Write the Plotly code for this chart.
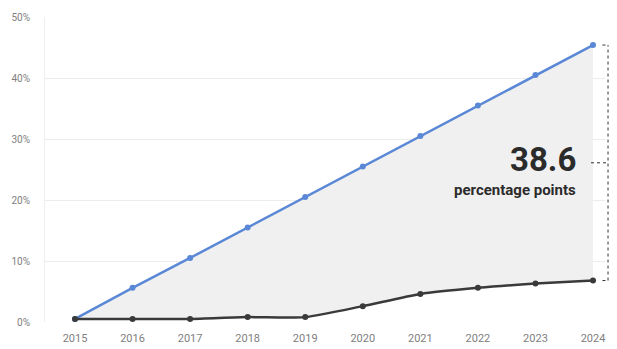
import plotly.graph_objects as go

years = [2015, 2016, 2017, 2018, 2019, 2020, 2021, 2022, 2023, 2024]
blue_series = [0.5, 5.6, 10.5, 15.5, 20.5, 25.5, 30.5, 35.5, 40.5, 45.4]
black_series = [0.5, 0.5, 0.5, 0.8, 0.8, 2.6, 4.6, 5.6, 6.3, 6.8]
y_ticks = [0, 10, 20, 30, 40, 50]
y_tick_labels = ["0%", "10%", "20%", "30%", "40%", "50%"]

gap = round(blue_series[-1] - black_series[-1], 1)

FONT = "Roboto, sans-serif"

fig = go.Figure()
fig.add_trace(go.Scatter(
    x=years, y=blue_series, mode="lines+markers",
    line=dict(color="#5a88d6", width=2.5),
    marker=dict(size=6, color="#5a88d6"),
    cliponaxis=False, showlegend=False, hoverinfo="skip",
))
fig.add_trace(go.Scatter(
    x=years, y=black_series, mode="lines+markers",
    line=dict(color="#3a3a3a", width=2.5, shape="spline", smoothing=0.6),
    marker=dict(size=6, color="#3a3a3a"),
    fill="tonexty", fillcolor="#f0f0f0",
    cliponaxis=False, showlegend=False, hoverinfo="skip",
))

# bracket marking the gap in the final year
x1 = 1.0054
y_top, y_bot = blue_series[-1] / 50, black_series[-1] / 50
dot = dict(color="#333333", width=1, dash="dot")
fig.add_shape(type="line", xref="paper", yref="paper", x0=x1, x1=x1, y0=y_bot, y1=y_top, line=dot)
fig.add_shape(type="line", xref="paper", yref="paper", x0=0.9955, x1=x1, y0=y_top, y1=y_top, line=dot)
fig.add_shape(type="line", xref="paper", yref="paper", x0=0.9955, x1=x1, y0=y_bot, y1=y_bot, line=dot)
y_mid = (y_top + y_bot) / 2
fig.add_shape(type="line", xref="paper", yref="paper", x0=0.975, x1=x1, y0=y_mid, y1=y_mid, line=dot)

fig.add_annotation(
    xref="paper", yref="paper", x=0.952, y=y_mid + 0.01, xanchor="right", yanchor="middle",
    text=f"<b>{gap}</b>", showarrow=False,
    font=dict(family=FONT, size=33, color="#2b2b2b"),
)
fig.add_annotation(
    xref="paper", yref="paper", x=0.952, y=y_mid - 0.09, xanchor="right", yanchor="middle",
    text="<b>percentage points</b>", showarrow=False,
    font=dict(family=FONT, size=15, color="#2b2b2b"),
)

fig.update_layout(
    width=617, height=349,
    margin=dict(l=45, r=12, t=17, b=27, autoexpand=False),
    paper_bgcolor="white", plot_bgcolor="white",
    xaxis=dict(
        range=[2014.479, 2024.208], tickvals=years, ticktext=[str(y) for y in years],
        showgrid=False, zeroline=False, showline=False, automargin=False,
        tickfont=dict(family=FONT, size=11, color="#808080"),
        ticks="", ticklabelstandoff=8,
    ),
    yaxis=dict(
        range=[0, 50], tickvals=y_ticks, ticktext=y_tick_labels, automargin=False,
        showgrid=True, gridcolor="#ececec", gridwidth=1, zeroline=False,
        showline=True, linecolor="#eeeeee", linewidth=1,
        tickfont=dict(family=FONT, size=10, color="#808080"),
        ticks="", ticklabelstandoff=12,
    ),
)

fig.write_html("out.html")
